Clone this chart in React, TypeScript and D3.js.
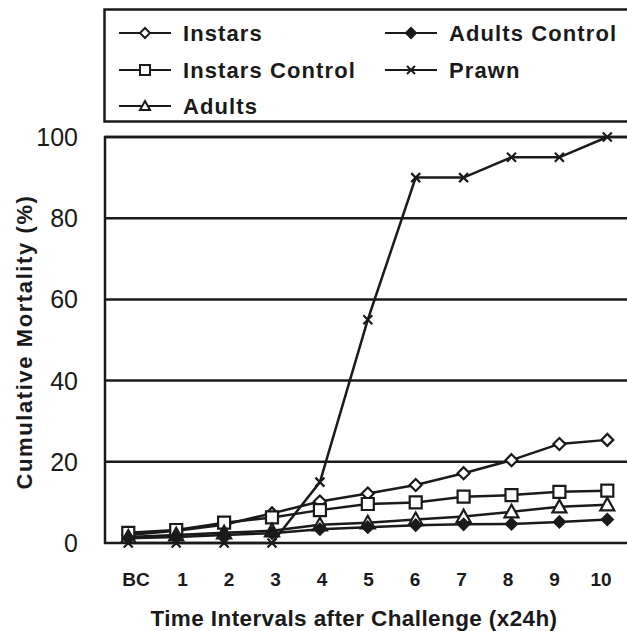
import React, { useEffect, useRef } from 'react';
import * as d3 from 'd3';

const timeLabels = ['BC', '1', '2', '3', '4', '5', '6', '7', '8', '9', '10'];
const yTicks = [0, 20, 40, 60, 80, 100];

const instars = [2, 3, 4.5, 7.3, 10.2, 12.2, 14.3, 17.2, 20.4, 24.4, 25.4];
const instarsControl = [2.5, 3.2, 5, 6.3, 8.1, 9.6, 10, 11.4, 11.8, 12.6, 12.9];
const adults = [1.5, 2, 2.5, 3, 4.5, 5, 5.8, 6.5, 7.7, 8.9, 9.4];
const adultsControl = [1.2, 1.5, 2, 2.4, 3.4, 3.9, 4.4, 4.6, 4.7, 5.2, 5.8];
const prawn = [0, 0, 0, 0, 15, 55, 90, 90, 95, 95, 100];

const seriesNames = ['Instars', 'Instars Control', 'Adults', 'Adults Control', 'Prawn'];
const seriesMarkers = ['diamond', 'square', 'triangle', 'filledDiamond', 'cross'];

const FONT = '"Liberation Sans", Arial, Helvetica, sans-serif';

function markerPath(kind: string, s: number) {
  const h = s / 2;
  if (kind === 'diamond' || kind === 'filledDiamond') return `M0,${-h}L${h},0L0,${h}L${-h},0Z`;
  if (kind === 'square') return `M${-h},${-h}H${h}V${h}H${-h}Z`;
  if (kind === 'triangle') return `M0,${-h}L${h},${h * 0.8}H${-h}Z`;
  return `M${-h},${-h}L${h},${h}M${h},${-h}L${-h},${h}`;
}

const App = () => {
  const svgRef = useRef<SVGSVGElement>(null);

  useEffect(() => {
    const width = 627;
    const height = 631;
    const svg = d3.select(svgRef.current)
      .attr('width', width)
      .attr('height', height)
      .style('position', 'absolute')
      .style('left', 0)
      .style('top', 0)
      .style('background', '#fff');
    svg.selectAll('*').remove();

    const x = d3.scalePoint().domain(timeLabels).range([128.3, 607.3]);
    // tick labels in the original sit slightly off the data points
    const xLabel = d3.scalePoint().domain(timeLabels).range([136, 601]);
    const y = d3.scaleLinear().domain([0, 100]).range([543, 137]);

    const left = 105;
    const right = 640;

    // gridlines
    svg.append('g')
      .selectAll('line')
      .data(yTicks.filter(d => d > 0))
      .enter().append('line')
      .attr('x1', left).attr('x2', right)
      .attr('y1', d => y(d)).attr('y2', d => y(d))
      .attr('stroke', '#1a1a1a').attr('stroke-width', 2.5);

    // frame
    svg.append('path')
      .attr('d', `M${right},${y(100)}H${left}V${y(0)}H${right}`)
      .attr('fill', 'none')
      .attr('stroke', '#1a1a1a')
      .attr('stroke-width', 2.5);

    // y tick labels
    svg.append('g')
      .selectAll('text')
      .data(yTicks)
      .enter().append('text')
      .attr('x', 78)
      .attr('y', d => y(d))
      .attr('dy', '0.36em')
      .attr('text-anchor', 'end')
      .style('font-family', FONT)
      .style('font-size', '25px')
      .attr('fill', '#1a1a1a')
      .text(d => d);

    // x tick labels
    svg.append('g')
      .selectAll('text')
      .data(timeLabels)
      .enter().append('text')
      .attr('x', d => xLabel(d)!)
      .attr('y', 585.5)
      .attr('text-anchor', 'middle')
      .style('font-family', FONT)
      .style('font-size', '19px')
      .style('font-weight', 'bold')
      .attr('fill', '#1a1a1a')
      .text(d => d);

    svg.append('text')
      .attr('x', 354)
      .attr('y', 625.5)
      .attr('text-anchor', 'middle')
      .style('font-family', FONT)
      .style('font-size', '22.5px')
      .style('font-weight', 'bold')
      .style('letter-spacing', '0.4px')
      .attr('fill', '#1a1a1a')
      .text('Time Intervals after Challenge (x24h)');

    svg.append('text')
      .attr('transform', 'translate(32,342) rotate(-90)')
      .attr('text-anchor', 'middle')
      .style('font-family', FONT)
      .style('font-size', '22px')
      .style('font-weight', 'bold')
      .style('letter-spacing', '1.6px')
      .attr('fill', '#1a1a1a')
      .text('Cumulative Mortality (%)');

    const allSeries = [instars, instarsControl, adults, adultsControl, prawn];
    const line = d3.line<number>()
      .x((d, i) => x(timeLabels[i])!)
      .y(d => y(d));

    allSeries.forEach((values, si) => {
      const kind = seriesMarkers[si];
      const g = svg.append('g');
      g.append('path')
        .datum(values)
        .attr('d', line)
        .attr('fill', 'none')
        .attr('stroke', '#1a1a1a')
        .attr('stroke-width', 2.5);
      g.selectAll('path.m')
        .data(values)
        .enter().append('path')
        .attr('class', 'm')
        .attr('transform', (d, i) => `translate(${x(timeLabels[i])},${y(d)})`)
        .attr('d', markerPath(kind, kind === 'cross' ? 9 : kind === 'filledDiamond' ? 11 : kind === 'triangle' ? 14 : 12))
        .attr('fill', kind === 'filledDiamond' ? '#1a1a1a' : kind === 'cross' ? 'none' : '#fff')
        .attr('stroke', '#1a1a1a')
        .attr('stroke-width', 2.2);
    });

    // legend
    const legend = svg.append('g');
    legend.append('rect')
      .attr('x', 104.5).attr('y', 9.5)
      .attr('width', 560).attr('height', 112)
      .attr('fill', '#fff')
      .attr('stroke', '#1a1a1a')
      .attr('stroke-width', 2.5);

    const legendPos = [
      [119, 33], [119, 70], [119, 106], [385, 33], [385, 70],
    ];
    seriesNames.forEach((name, i) => {
      const [lx, ly] = legendPos[i];
      const kind = seriesMarkers[i];
      const item = legend.append('g').attr('transform', `translate(${lx},${ly})`);
      item.append('line')
        .attr('x1', 0).attr('x2', 52)
        .attr('stroke', '#1a1a1a').attr('stroke-width', 2);
      item.append('path')
        .attr('transform', 'translate(26,0)')
        .attr('d', markerPath(kind, kind === 'cross' ? 8 : 10))
        .attr('fill', kind === 'filledDiamond' ? '#1a1a1a' : kind === 'cross' ? 'none' : '#fff')
        .attr('stroke', '#1a1a1a')
        .attr('stroke-width', 2);
      item.append('text')
        .attr('x', 64)
        .attr('dy', '0.36em')
        .style('font-family', FONT)
        .style('font-size', '22px')
        .style('font-weight', 'bold')
        .style('letter-spacing', '1.1px')
        .attr('fill', '#1a1a1a')
        .text(name);
    });
  }, []);

  return <svg ref={svgRef}></svg>;
};

export default App;
